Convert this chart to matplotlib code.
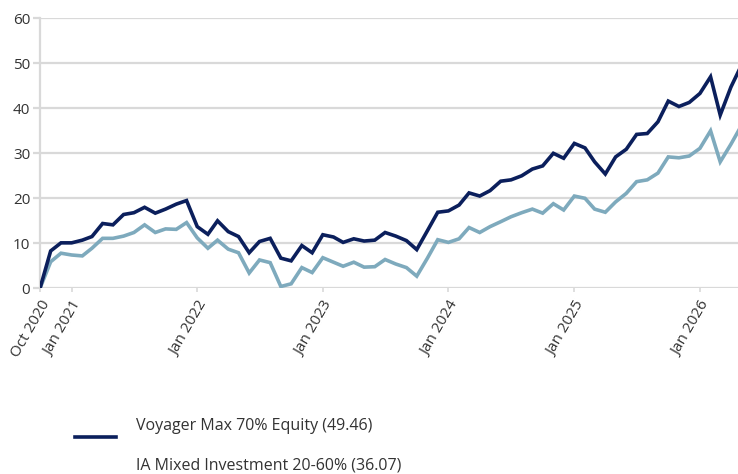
import matplotlib
matplotlib.use("Agg")
import matplotlib.pyplot as plt
import matplotlib.dates as mdates
from matplotlib.lines import Line2D
import pandas as pd

plt.rcParams['font.family'] = ['Open Sans', 'DejaVu Sans']

start_month = "2020-10-01"
series_names = ["Voyager Max 70% Equity (49.46)", "IA Mixed Investment 20-60% (36.07)"]
voyager = [0, 8.3, 10.1, 10.1, 10.7, 11.5, 14.4, 14.1, 16.4, 16.8, 18.0, 16.7, 17.6, 18.7, 19.5,
           13.7, 12.0, 15.0, 12.6, 11.5, 7.9, 10.4, 11.1, 6.7, 6.1, 9.5, 7.9,
           11.9, 11.4, 10.2, 11.0, 10.5, 10.7, 12.4, 11.6, 10.6, 8.6, 12.8, 16.9,
           17.2, 18.5, 21.2, 20.5, 21.7, 23.8, 24.1, 25.0, 26.5, 27.2, 30.0, 28.9,
           32.2, 31.2, 28.1, 25.4, 29.2, 30.9, 34.2, 34.4, 37.0, 41.6, 40.4, 41.3,
           43.3, 47.0, 38.5, 44.7, 49.46]
ia_mixed = [0, 5.9, 7.8, 7.4, 7.2, 8.9, 11.1, 11.1, 11.6, 12.4, 14.1, 12.4, 13.2, 13.1, 14.6,
            11.2, 8.9, 10.7, 8.7, 7.9, 3.4, 6.3, 5.7, 0.4, 1.0, 4.6, 3.5,
            6.8, 5.8, 4.9, 5.8, 4.7, 4.8, 6.4, 5.4, 4.6, 2.7, 6.7, 10.8,
            10.2, 11.0, 13.5, 12.4, 13.7, 14.8, 15.9, 16.8, 17.6, 16.7, 18.8, 17.4,
            20.5, 20.0, 17.6, 16.9, 19.2, 21.1, 23.7, 24.1, 25.6, 29.2, 29.0, 29.4,
            31.1, 35.0, 28.1, 32.0, 36.07]
tick_dates = ["2020-10-01", "2021-01-01", "2022-01-01", "2023-01-01", "2024-01-01", "2025-01-01", "2026-01-01"]
tick_labels = ["Oct 2020", "Jan 2021", "Jan 2022", "Jan 2023", "Jan 2024", "Jan 2025", "Jan 2026"]
y_ticks = [0, 10, 20, 30, 40, 50, 60]

dates = pd.date_range(start_month, periods=len(voyager), freq="MS")

DARK = "#0b1f5c"
LIGHT = "#7eaabd"
GRID = "#d9d9d9"
TXT = "#333333"

W, H = 738, 474
fig = plt.figure(figsize=(W / 100, H / 100), dpi=100)
ax = fig.add_axes([40 / W, (H - 288.3) / H, 701.2 / W, 270 / H])

ax.plot(dates, ia_mixed, color=LIGHT, lw=2.6, solid_joinstyle="miter", zorder=3)
ax.plot(dates, voyager, color=DARK, lw=2.6, solid_joinstyle="miter", zorder=4)

ax.set_xlim(pd.Timestamp("2020-10-01"), pd.Timestamp("2026-05-01"))
ax.set_ylim(0, 60)
ax.set_yticks(y_ticks)
ax.set_xticks(pd.to_datetime(tick_dates))
ax.set_xticklabels(tick_labels, rotation=60, ha="right", va="top", rotation_mode="anchor")

ax.grid(axis="y", color=GRID, lw=1.6, zorder=0)
ax.set_axisbelow(True)
for s in ["top", "right", "bottom"]:
    ax.spines[s].set_visible(False)
ax.spines["left"].set_color(GRID)
ax.spines["left"].set_linewidth(1.6)
ax.tick_params(axis="y", length=5, width=1.6, color=GRID, labelsize=11, labelcolor=TXT, pad=2)
ax.tick_params(axis="x", length=3, width=1.2, color=GRID, labelsize=11, labelcolor=TXT, pad=4)

# legend drawn manually (as in the reference, the handles sit below the text)
fig.add_artist(Line2D([75 / W, 116 / W], [(H - 436.7) / H] * 2, color=DARK, lw=2.6,
                      transform=fig.transFigure))
fig.add_artist(Line2D([75 / W, 116 / W], [(H - 475.7) / H] * 2, color=LIGHT, lw=2.6,
                      transform=fig.transFigure))
fig.text(136 / W, (H - 426) / H, series_names[0], fontsize=11.5, color=TXT, va="center", ha="left")
fig.text(136 / W, (H - 465) / H, series_names[1], fontsize=11.5, color=TXT, va="center", ha="left")

fig.savefig("out.png", dpi=100)
